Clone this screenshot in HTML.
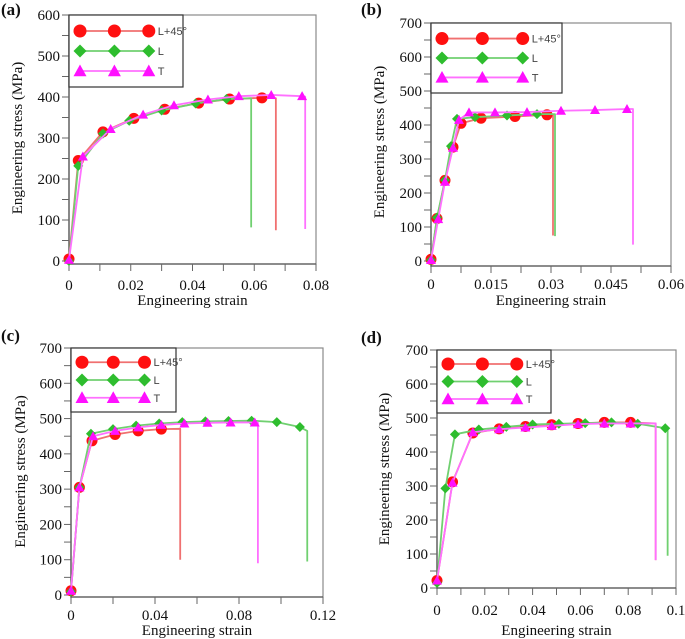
<!DOCTYPE html>
<html><head><meta charset="utf-8"><style>
body{margin:0;background:#fff;width:685px;height:639px;overflow:hidden}
svg{display:block}
text{font-family:"Liberation Serif",serif;fill:#111}
</style></head><body>
<svg id="fig" width="685" height="639"></svg>
<script>
// ---- data (strain, stress MPa) ----
const aTicksX=[0,0.02,0.04,0.06,0.08];const aTickLblX=["0","0.02","0.04","0.06","0.08"];
const aTicksY=[0,100,200,300,400,500,600];
const aRedX=[0,0.003,0.011,0.021,0.031,0.042,0.052,0.0625];const aRedY=[5,245,315,348,370,385,395,398];const aRedEnd=[0.067,397,75];
const aGrnX=[0,0.003,0.011,0.0195,0.030,0.041,0.051];const aGrnY=[0,232,311,342,367,384,395];const aGrnEnd=[0.059,397,82];
const aMagX=[0,0.0045,0.0135,0.024,0.034,0.045,0.055,0.0655,0.0755];const aMagY=[3,255,322,357,380,394,402,405,402];const aMagEnd=[0.0765,401,78];

const bTicksX=[0,0.015,0.03,0.045,0.06];const bTickLblX=["0","0.015","0.03","0.045","0.06"];
const bTicksY=[0,100,200,300,400,500,600,700];
const bRedX=[0,0.0015,0.0035,0.0055,0.0075,0.0125,0.021,0.029];const bRedY=[5,125,237,335,405,420,425,430];const bRedEnd=[0.0305,430,75];
const bGrnX=[0,0.0015,0.0035,0.005,0.0065,0.011,0.019,0.0265];const bGrnY=[3,128,238,338,418,423,428,432];const bGrnEnd=[0.031,432,73];
const bMagX=[0,0.0018,0.0035,0.0055,0.007,0.0095,0.016,0.024,0.0325,0.041,0.049];const bMagY=[3,123,233,333,415,437,437,438,442,444,447];const bMagEnd=[0.0505,447,48];

const cTicksX=[0,0.04,0.08,0.12];const cTickLblX=["0","0.04","0.08","0.12"];
const cTicksY=[0,100,200,300,400,500,600,700];
const cRedX=[0,0.004,0.010,0.021,0.032,0.043];const cRedY=[12,305,437,455,465,470];const cRedEnd=[0.052,471,100];
const cGrnX=[0,0.004,0.0095,0.020,0.031,0.042,0.053,0.064,0.075,0.086,0.098,0.109];const cGrnY=[10,305,457,470,480,486,490,492,493,494,490,476];const cGrnEnd=[0.1125,465,95];
const cMagX=[0,0.004,0.0105,0.021,0.032,0.043,0.054,0.065,0.076,0.0875];const cMagY=[12,305,450,465,475,482,486,488,489,489];const cMagEnd=[0.089,489,90];

const dTicksX=[0,0.02,0.04,0.06,0.08,0.1];const dTickLblX=["0","0.02","0.04","0.06","0.08","0.1"];
const dTicksY=[0,100,200,300,400,500,600,700];
const dRedX=[0,0.0065,0.015,0.026,0.037,0.048,0.059,0.070,0.081];const dRedY=[22,312,456,468,475,480,484,487,487];const dRedEnd=[0.0915,484,82];
const dGrnX=[0,0.0035,0.0075,0.0175,0.029,0.040,0.051,0.062,0.073,0.084,0.0955];const dGrnY=[15,293,452,466,474,481,483,485,487,483,470];const dGrnEnd=[0.0965,468,95];
const dMagX=[0,0.0065,0.015,0.026,0.037,0.048,0.059,0.070,0.081];const dMagY=[22,310,458,467,472,477,482,484,484];const dMagEnd=[0.0915,484,82];

const NS="http://www.w3.org/2000/svg";
const svg=document.getElementById('fig');
function mk(tag,attrs,parent){const e=document.createElementNS(NS,tag);for(const k in attrs)e.setAttribute(k,attrs[k]);(parent||svg).appendChild(e);return e;}
const COL={red:{m:"#ff1010",l:"#f07070"},grn:{m:"#2ebd2e",l:"#70d070"},mag:{m:"#ff10ff",l:"#ff70ff"}};
function marker(kind,cx,cy,s,g){
  let e;
  if(kind==="red"){e=mk('circle',{cx:cx,cy:cy,r:s,fill:COL.red.m},g);}
  else if(kind==="grn"){e=mk('polygon',{points:`${cx},${cy-s} ${cx+s},${cy} ${cx},${cy+s} ${cx-s},${cy}`,fill:COL.grn.m},g);}
  else {e=mk('polygon',{points:`${cx},${cy-s} ${cx+s},${cy+s*0.8} ${cx-s},${cy+s*0.8}`,fill:COL.mag.m},g);}
  return e;
}
function panel(P){
  const g=mk('g',{});
  
  
  const sx=v=>P.L+(v-P.xmin)/(P.xmax-P.xmin)*(P.R-P.L);
  const sy=v=>P.B-(v/P.ymax)*(P.B-P.T);
  const FB=P.fb;
  const lbl=mk('text',{x:P.lx,y:P.ly,'font-size':17,'font-weight':'bold'},g);lbl.textContent='('+P.id+')';
  
  
  const fr=mk('rect',{x:P.L,y:P.T,width:P.R-P.L,height:FB-P.T,fill:'none',stroke:'#8a8a8a','stroke-width':1.2},g);
  
  
  mk('line',{x1:P.L,y1:P.T,x2:P.L,y2:FB+1,stroke:'#555','stroke-width':1.3},g);
  mk('line',{x1:P.L,y1:FB,x2:P.R,y2:FB,stroke:'#555','stroke-width':1.3},g);
  for(let v=0;v<=P.ymax;v+=50){const y=sy(v);mk('line',{x1:P.L-7,y1:y,x2:P.L,y2:y,stroke:'#666'},g);}
  P.ty.forEach(v=>{const t=mk('text',{x:P.L-9,y:sy(v)+5,'font-size':15,'text-anchor':'end'},g);t.textContent=v;
    
    });
  const tx=P.tx;
  for(let i=0;i<tx.length;i++){const x=sx(tx[i]);mk('line',{x1:x,y1:FB,x2:x,y2:FB+7,stroke:'#666'},g);
    if(i<tx.length-1){const xm=sx((tx[i]+tx[i+1])/2);mk('line',{x1:xm,y1:FB,x2:xm,y2:FB+7,stroke:'#666'},g);}
    const t=mk('text',{x:x,y:P.tly,'font-size':15,'text-anchor':'middle'},g);t.textContent=P.txl[i];
    
    }
  const xt=mk('text',{x:(P.L+P.R)/2,y:P.ttl,'font-size':15,'text-anchor':'middle'},g);xt.textContent='Engineering strain';
  
  
  const yc=(P.T+P.B)/2;
  const yt=mk('text',{x:P.yx,y:yc,'font-size':15,'text-anchor':'middle',transform:`rotate(-90 ${P.yx} ${yc})`},g);yt.textContent='Engineering stress (MPa)';
  
  
  P.series.forEach(s=>{
    const sg=mk('g',{},g);
    
    
    let pts=s.x.map((v,i)=>sx(v)+','+sy(s.y[i]));
    pts.push(sx(s.end[0])+','+sy(s.end[1]));
    pts.push(sx(s.end[0])+','+sy(s.end[2]));
    const pl=mk('polyline',{points:pts.join(' '),fill:'none',stroke:COL[s.k].l,'stroke-width':1.8,'stroke-linejoin':'round'},sg);
    
    
    s.x.forEach((v,i)=>{const m=marker(s.k,sx(v),sy(s.y[i]),s.k==='red'?5.5:5,sg);
      
      });
  });
  const lg=mk('g',{},g);
  
  
  mk('rect',{x:P.L,y:P.T,width:P.lw,height:P.lh,fill:'#fff',stroke:'#333','stroke-width':1.2},lg);
  const names=[['red','L+45°'],['grn','L'],['mag','T']];
  const step=P.lh/3.6;
  names.forEach((n,i)=>{
    const y=P.T+step*(0.8+i);const x0=P.L+11, x1=P.L+P.lw*0.7;
    const row=mk('g',{},lg);
    
    
    mk('line',{x1:x0,y1:y,x2:x1,y2:y,stroke:COL[n[0]].l,'stroke-width':1.8},row);
    [x0,(x0+x1)/2,x1].forEach(x=>marker(n[0],x,y,6.5,row));
    const t=mk('text',{x:x1+9,y:y+4,'font-size':11,style:'font-family:"Liberation Sans",sans-serif;fill:#444'},row);t.textContent=n[1];
  });
}
panel({id:'a',L:69,R:316,T:15,B:261,fb:264,tly:290,ttl:305,xmin:0,xmax:0.08,ymax:600,tx:aTicksX,txl:aTickLblX,ty:aTicksY,lx:1,ly:15,yx:22,lw:114,lh:72,
  series:[{name:'l45',k:'red',x:aRedX,y:aRedY,end:aRedEnd},{name:'l',k:'grn',x:aGrnX,y:aGrnY,end:aGrnEnd},{name:'t',k:'mag',x:aMagX,y:aMagY,end:aMagEnd}]});
panel({id:'b',L:431,R:671,T:23,B:261,fb:266,tly:289,ttl:305,xmin:0,xmax:0.06,ymax:700,tx:bTicksX,txl:bTickLblX,ty:bTicksY,lx:361,ly:15,yx:384,lw:131,lh:70,
  series:[{name:'l45',k:'red',x:bRedX,y:bRedY,end:bRedEnd},{name:'l',k:'grn',x:bGrnX,y:bGrnY,end:bGrnEnd},{name:'t',k:'mag',x:bMagX,y:bMagY,end:bMagEnd}]});
panel({id:'c',L:71,R:323,T:348,B:595,fb:597,tly:620,ttl:635,xmin:0,xmax:0.12,ymax:700,tx:cTicksX,txl:cTickLblX,ty:cTicksY,lx:1,ly:341,yx:25,lw:105,lh:64,
  series:[{name:'l45',k:'red',x:cRedX,y:cRedY,end:cRedEnd},{name:'l',k:'grn',x:cGrnX,y:cGrnY,end:cGrnEnd},{name:'t',k:'mag',x:cMagX,y:cMagY,end:cMagEnd}]});
panel({id:'d',L:437,R:676,T:350,B:588,fb:588,tly:615,ttl:635,xmin:0,xmax:0.1,ymax:700,tx:dTicksX,txl:dTickLblX,ty:dTicksY,lx:361,ly:343,yx:389,lw:114,lh:63,
  series:[{name:'l45',k:'red',x:dRedX,y:dRedY,end:dRedEnd},{name:'l',k:'grn',x:dGrnX,y:dGrnY,end:dGrnEnd},{name:'t',k:'mag',x:dMagX,y:dMagY,end:dMagEnd}]});
</script>
</body></html>
